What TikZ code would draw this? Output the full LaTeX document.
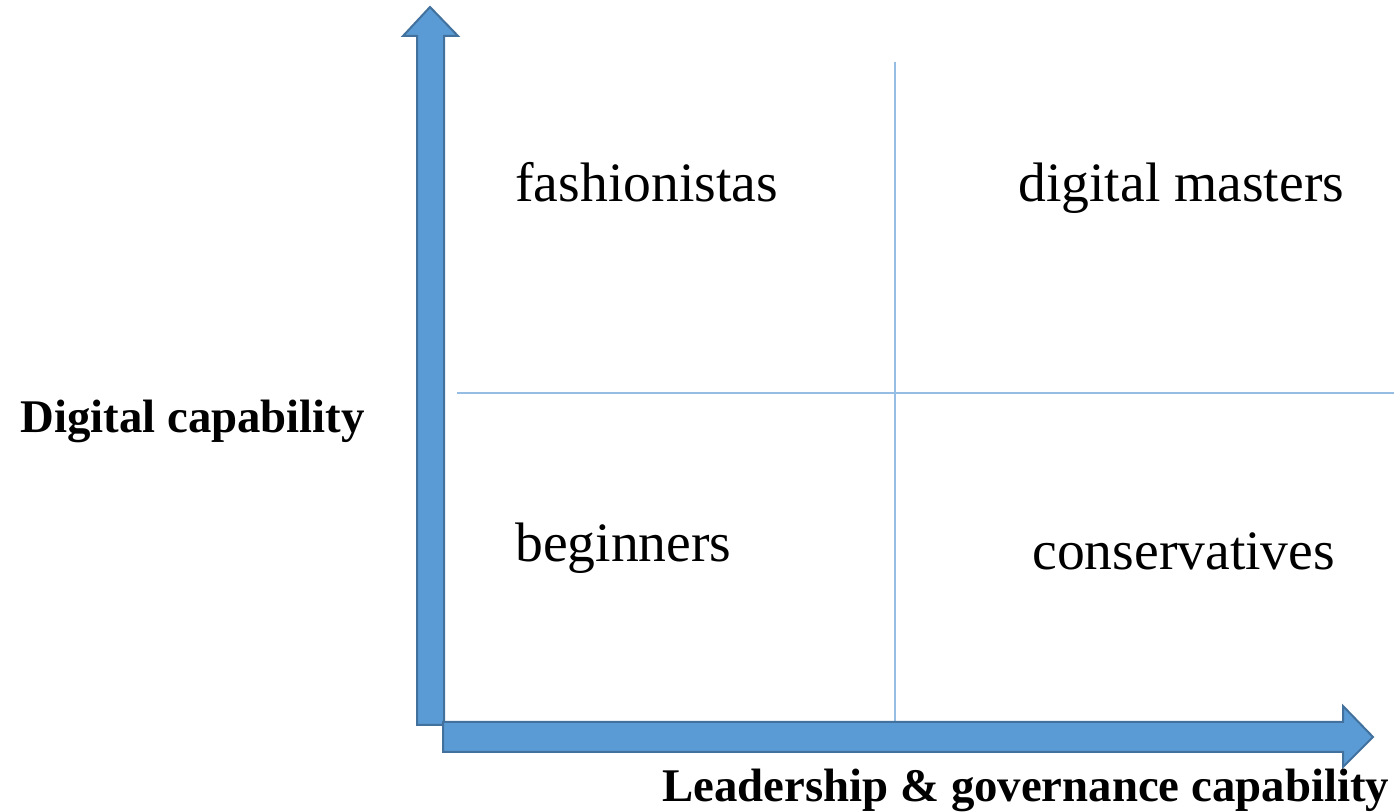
\documentclass[tikz,border=0pt]{standalone}
\usepackage{fontspec}
\setmainfont{Liberation Serif}
\usetikzlibrary{positioning}
\definecolor{axisblue}{RGB}{91,155,213}
\definecolor{axisedge}{RGB}{65,113,156}
\definecolor{gridblue}{RGB}{150,190,228}
\tikzset{
	axisarrow/.style={fill=axisblue,draw=axisedge,line width=1pt,line join=miter},
	divider/.style={draw=gridblue,line width=0.8pt},
	quadtext/.style={anchor=base west,inner sep=0pt,font=\fontsize{27.8}{30}\selectfont},
	axistext/.style={anchor=base west,inner sep=0pt,font=\fontsize{23.4}{26}\selectfont\bfseries}
}
\begin{document}
\begin{tikzpicture}[x=0.5pt,y=-0.5pt]
	\useasboundingbox (0,0) rectangle (1394,812);
	% quadrant dividers
	\draw[divider] (895,62)--(895,722);
	\draw[divider] (457,393)--(1394,393);
	% axes
	\draw[axisarrow] (417,725)--(444,725)--(444,36)--(458,36)--(430,7)--(403,36)--(417,36)--cycle;
	\draw[axisarrow] (443,722)--(1343,722)--(1343,706)--(1373,737)--(1343,767)--(1343,752)--(443,752)--cycle;
	% quadrant names
	\node (fashion) at (515,202) [quadtext] {fashionistas};
	\node (masters) at (1018,202) [quadtext] {digital masters};
	\node (begin) at (515,562) [quadtext] {beginners};
	\node (conserv) at (1032,570) [quadtext] {conservatives};
	% axis names
	\node (ylabel) at (20,433) [axistext] {Digital capability};
	\node (xlabel) at (662,802) [axistext] {Leadership \& governance capability};
\end{tikzpicture}
\end{document}
